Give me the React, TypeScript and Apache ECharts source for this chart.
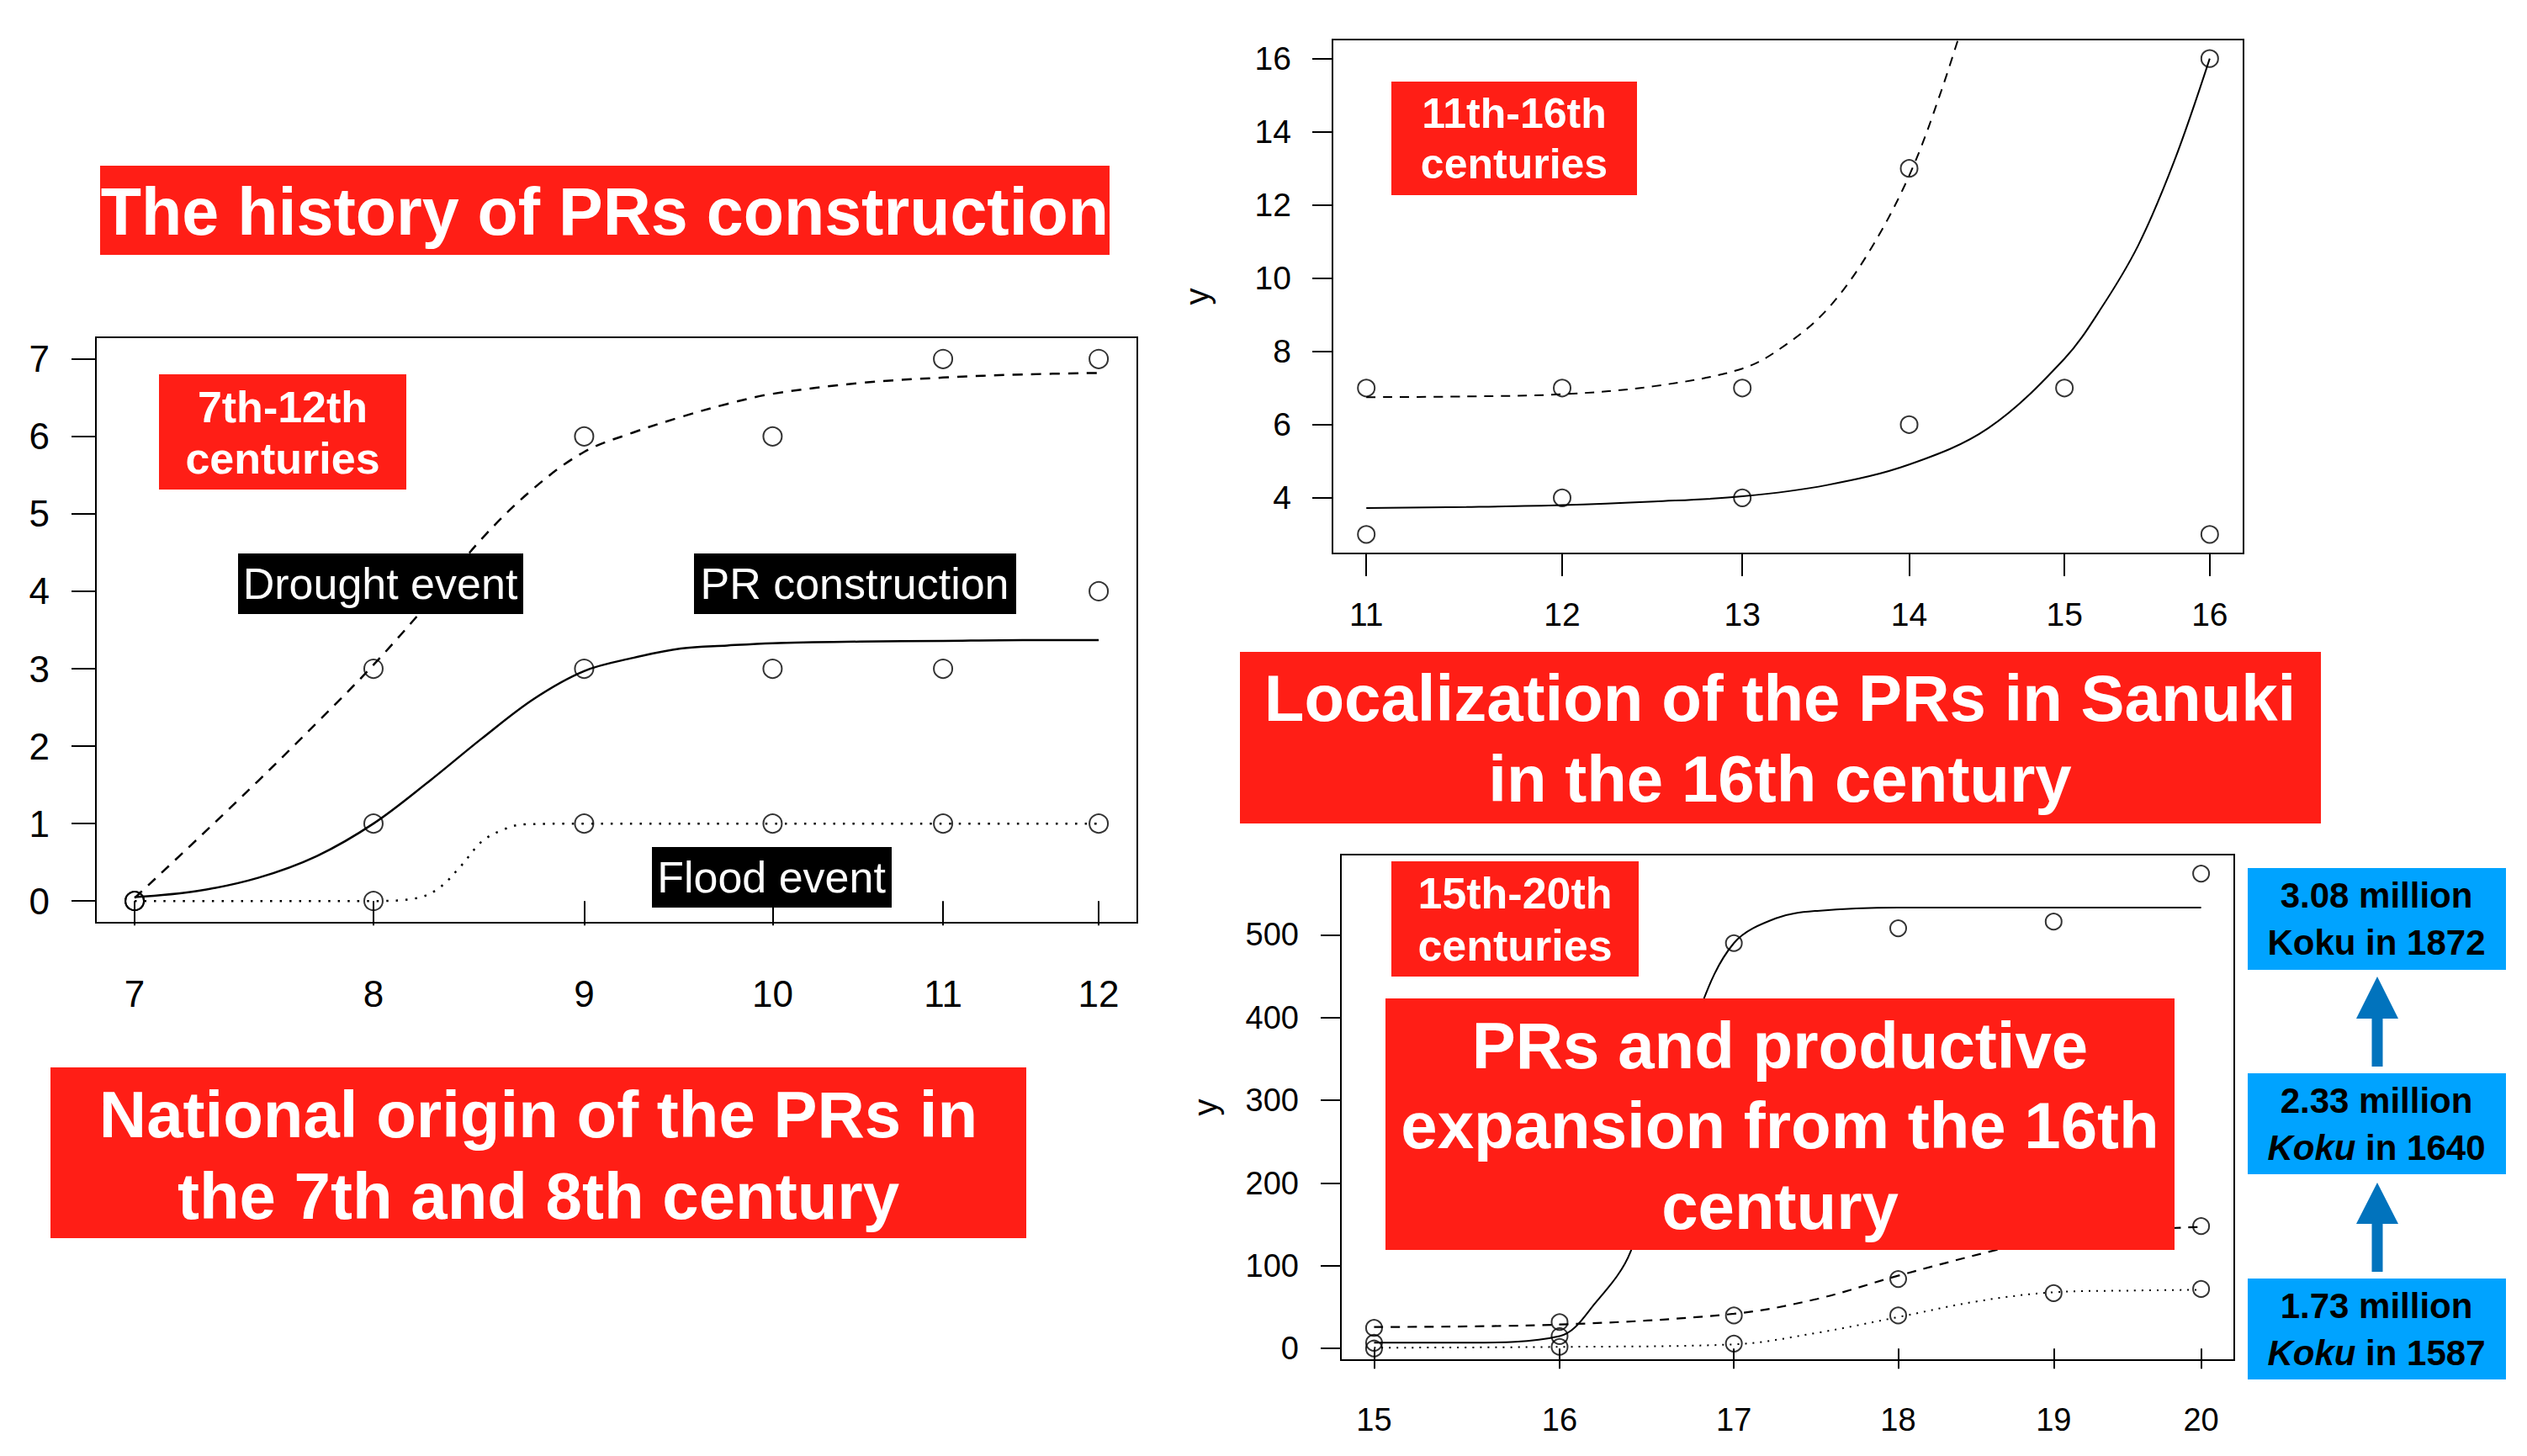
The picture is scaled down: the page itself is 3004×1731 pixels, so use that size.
import React, { useEffect, useRef } from "react";
import * as echarts from "echarts";

const FONT = '"Liberation Sans", Arial, Helvetica, sans-serif';
const RED = "#FF1E16";
const BLUE = "#00A3FF";
const ARROW = "#0173BD";

// ---------- Panel 1: 7th-12th centuries ----------
const p1Ticks = [7, 8, 9, 10, 11, 12];
const p1YTicks = [0, 1, 2, 3, 4, 5, 6, 7];
const p1Drought = [0, 3, 6, 6, 7, 7];
const p1PR = [0, 1, 3, 3, 3, 4];
const p1Flood = [0, 0, 1, 1, 1, 1];
const p1FitX = [7, 7.25, 7.5, 7.75, 8, 8.25, 8.5, 8.75, 9, 9.25, 9.5, 9.75, 10, 10.5, 11, 11.5, 12];
const p1DroughtFit = [0.04, 0.8, 1.55, 2.3, 3.05, 3.85, 4.68, 5.33, 5.8, 6.05, 6.25, 6.42, 6.55, 6.69, 6.76, 6.8, 6.82];
const p1PRFit = [0.05, 0.13, 0.3, 0.58, 1.0, 1.54, 2.1, 2.61, 2.97, 3.14, 3.26, 3.3, 3.33, 3.35, 3.36, 3.37, 3.37];
const p1FloodFitX = [7, 8, 8.2, 8.3, 8.4, 8.5, 8.6, 8.7, 9, 10, 11, 12];
const p1FloodFit = [0, 0, 0.04, 0.17, 0.45, 0.77, 0.92, 0.99, 1, 1, 1, 1];

// ---------- Panel 2: 11th-16th centuries ----------
const p2Ticks = [11, 12, 13, 14, 15, 16];
const p2YTicks = [4, 6, 8, 10, 12, 14, 16];
const p2SolidPts = [3, 4, 4, 6, 7, 16];
const p2DashedX = [11, 12, 13, 14];
const p2DashedPts = [7, 7, 7, 13];
const p2OtherX = [16];
const p2OtherPts = [3];
const p2SolidFitX = [11, 11.5, 12, 12.5, 13, 13.5, 14, 14.5, 15, 15.25, 15.5, 15.75, 16];
const p2SolidFit = [3.72, 3.75, 3.8, 3.9, 4.04, 4.35, 4.91, 5.9, 7.8, 9.2, 10.9, 13.2, 16.0];
const p2DashedFitX = [11, 11.5, 12, 12.5, 13, 13.25, 13.5, 13.75, 14, 14.2, 14.4];
const p2DashedFit = [6.75, 6.77, 6.83, 7.05, 7.53, 8.17, 9.15, 10.7, 12.8, 15.1, 17.8];

// ---------- Panel 3: 15th-20th centuries ----------
const p3Ticks = [15, 16, 17, 18, 19, 20];
const p3YTicks = [0, 100, 200, 300, 400, 500];
const p3SolidPts = [7, 15, 490, 508, 516, 574];
const p3DashedPts = [25, 32, 40, 84, 130, 148];
const p3DottedPts = [0, 2, 6, 40, 67, 72];
const p3SolidFitX = [15, 15.5, 16, 16.2, 16.4, 16.6, 16.8, 17, 17.25, 17.5, 18, 19, 20];
const p3SolidFit = [7, 7, 15, 55, 117, 270, 410, 490, 520, 529, 533, 533, 533];
const p3DashedFitX = [15, 16, 17, 17.5, 18, 18.6, 19, 19.5, 20];
const p3DashedFit = [26, 29, 42, 60, 88, 118, 135, 143, 147];
const p3DottedFitX = [15, 16, 17, 17.5, 18, 18.5, 19, 19.5, 20];
const p3DottedFit = [1, 2, 5, 19, 38, 57, 68, 70, 71];

const pairs = (xs: number[], ys: number[]) => xs.map((x, i) => [x, ys[i]]);

function xAxisCfg(idx: number, min: number, max: number, ticks: number[], tickLen: number, margin: number, fs: number) {
  return {
    type: "log",
    logBase: 10,
    gridIndex: idx,
    min,
    max,
    axisLine: { show: false },
    axisTick: { show: true, inside: false, length: tickLen, lineStyle: { color: "#000", width: 2 }, customValues: ticks },
    axisLabel: { show: true, margin, color: "#000", fontSize: fs, fontFamily: FONT, customValues: ticks },
    splitLine: { show: false },
    minorTick: { show: false },
    minorSplitLine: { show: false },
  };
}

function yAxisCfg(idx: number, min: number, max: number, ticks: number[], tickLen: number, margin: number, fs: number, name?: string) {
  return {
    type: "value",
    gridIndex: idx,
    min,
    max,
    name: name || "",
    nameLocation: "middle",
    nameRotate: 90,
    nameGap: 141,
    nameTextStyle: { color: "#000", fontSize: 40, fontFamily: FONT },
    axisLine: { show: false },
    axisTick: { show: true, inside: false, length: tickLen, lineStyle: { color: "#000", width: 2 }, customValues: ticks },
    axisLabel: { show: true, margin, color: "#000", fontSize: fs, fontFamily: FONT, customValues: ticks },
    splitLine: { show: false },
  };
}

function scatter(idx: number, data: number[][], size: number) {
  return {
    type: "scatter",
    xAxisIndex: idx,
    yAxisIndex: idx,
    data,
    symbol: "circle",
    symbolSize: size,
    itemStyle: { color: "rgba(0,0,0,0)", borderColor: "#000", borderWidth: 2 },
    z: 3,
  };
}

function curve(idx: number, data: number[][], dash: number[] | null, width: number) {
  return {
    type: "line",
    xAxisIndex: idx,
    yAxisIndex: idx,
    data,
    showSymbol: false,
    smooth: 0.35,
    clip: true,
    lineStyle: { color: "#000", width, type: dash ? dash : "solid" },
    z: 2,
  };
}

function box(x: number, y: number, w: number, h: number, fill: string) {
  return { type: "rect", shape: { x, y, width: w, height: h }, style: { fill }, z: 50 };
}

function label(x: number, y: number, text: string, fs: number, fill: string, bold: boolean, rich?: any) {
  return {
    type: "text",
    x,
    y,
    z: 51,
    style: {
      text,
      fill,
      fontSize: fs,
      fontWeight: bold ? "bold" : "normal",
      fontFamily: FONT,
      align: "center",
      verticalAlign: "middle",
      textAlign: "center",
      textVerticalAlign: "middle",
      rich,
    },
  };
}

function arrow(cx: number, tip: number, base: number, bottom: number) {
  return {
    type: "polygon",
    z: 50,
    shape: {
      points: [
        [cx, tip],
        [cx + 25, base],
        [cx + 6.5, base],
        [cx + 6.5, bottom],
        [cx - 6.5, bottom],
        [cx - 6.5, base],
        [cx - 25, base],
      ],
    },
    style: { fill: ARROW },
  };
}

export default function App() {
  const ref = useRef<HTMLDivElement>(null);
  useEffect(() => {
    if (!ref.current) return;
    const chart = echarts.init(ref.current, null, { renderer: "svg" });
    const gridBase = { show: true, borderColor: "#000", borderWidth: 2, backgroundColor: "transparent", containLabel: false, outerBoundsMode: "none" };
    const italicRich = { i: { fontStyle: "italic", fontWeight: "bold", fontSize: 42, fontFamily: FONT, fill: "#000" } };
    const option: any = {
      animation: false,
      backgroundColor: "#fff",
      grid: [
        { ...gridBase, left: 114, top: 401, width: 1238, height: 696 },
        { ...gridBase, left: 1584, top: 47, width: 1083, height: 611 },
        { ...gridBase, left: 1594, top: 1016, width: 1062, height: 601 },
      ],
      xAxis: [
        xAxisCfg(0, 6.85, 12.262, p1Ticks, 29, 62, 44),
        xAxisCfg(1, 10.836, 16.242, p2Ticks, 27, 53, 39),
        xAxisCfg(2, 14.828, 20.232, p3Ticks, 24, 52, 38),
      ],
      yAxis: [
        yAxisCfg(0, -0.28, 7.28, p1YTicks, 29, 55, 44),
        yAxisCfg(1, 2.48, 16.52, p2YTicks, 24, 49, 39, "y"),
        yAxisCfg(2, -14, 597, p3YTicks, 24, 50, 38, "y"),
      ],
      series: [
        curve(0, pairs(p1FitX, p1DroughtFit), [12, 10], 2.5),
        curve(0, pairs(p1FitX, p1PRFit), null, 2.5),
        curve(0, pairs(p1FloodFitX, p1FloodFit), [2.5, 9], 2.5),
        scatter(0, pairs(p1Ticks, p1Drought), 22),
        scatter(0, pairs(p1Ticks, p1PR), 22),
        scatter(0, pairs(p1Ticks, p1Flood), 22),

        curve(1, pairs(p2SolidFitX, p2SolidFit), null, 2),
        curve(1, pairs(p2DashedFitX, p2DashedFit), [11, 9], 2),
        scatter(1, pairs(p2Ticks, p2SolidPts), 20),
        scatter(1, pairs(p2DashedX, p2DashedPts), 20),
        scatter(1, pairs(p2OtherX, p2OtherPts), 20),

        curve(2, pairs(p3SolidFitX, p3SolidFit), null, 2),
        curve(2, pairs(p3DashedFitX, p3DashedFit), [11, 9], 2.2),
        curve(2, pairs(p3DottedFitX, p3DottedFit), [2, 7], 2),
        scatter(2, pairs(p3Ticks, p3SolidPts), 19),
        scatter(2, pairs(p3Ticks, p3DashedPts), 19),
        scatter(2, pairs(p3Ticks, p3DottedPts), 19),
      ],
      graphic: {
        elements: [
          // Titles
          box(119, 197, 1200, 106, RED),
          label(719, 251, "The history of PRs construction", 79, "#fff", true),
          box(60, 1269, 1160, 203, RED),
          label(640, 1325, "National origin of the PRs in", 78, "#fff", true),
          label(640, 1422, "the 7th and 8th century", 78, "#fff", true),
          box(1474, 775, 1285, 204, RED),
          label(2116, 830, "Localization of the PRs in Sanuki", 78, "#fff", true),
          label(2116, 926, "in the 16th century", 78, "#fff", true),
          box(1647, 1187, 938, 299, RED),
          label(2116, 1243, "PRs and productive", 78, "#fff", true),
          label(2116, 1338, "expansion from the 16th", 78, "#fff", true),
          label(2116, 1434, "century", 78, "#fff", true),
          // Period tags
          box(189, 445, 294, 137, RED),
          label(336, 484, "7th-12th", 52, "#fff", true),
          label(336, 545, "centuries", 52, "#fff", true),
          box(1654, 97, 292, 135, RED),
          label(1800, 135, "11th-16th", 50, "#fff", true),
          label(1800, 195, "centuries", 50, "#fff", true),
          box(1654, 1024, 294, 137, RED),
          label(1801, 1062, "15th-20th", 52, "#fff", true),
          label(1801, 1124, "centuries", 52, "#fff", true),
          // Black tags
          box(283, 658, 339, 72, "#000"),
          label(452, 694, "Drought event", 52, "#fff", false),
          box(825, 658, 383, 72, "#000"),
          label(1016, 694, "PR construction", 52, "#fff", false),
          box(775, 1007, 285, 72, "#000"),
          label(917, 1043, "Flood event", 52, "#fff", false),
          // Blue boxes
          box(2672, 1032, 307, 121, BLUE),
          label(2825, 1064, "3.08 million", 42, "#000", true),
          label(2825, 1120, "Koku in 1872", 42, "#000", true),
          box(2672, 1276, 307, 120, BLUE),
          label(2825, 1308, "2.33 million", 42, "#000", true),
          label(2825, 1364, "{i|Koku} in 1640", 42, "#000", true, italicRich),
          box(2672, 1520, 307, 120, BLUE),
          label(2825, 1552, "1.73 million", 42, "#000", true),
          label(2825, 1608, "{i|Koku} in 1587", 42, "#000", true, italicRich),
          arrow(2826, 1161, 1211, 1268),
          arrow(2826, 1406, 1455, 1512),
        ],
      },
    };
    chart.setOption(option);
    return () => chart.dispose();
  }, []);
  return <div ref={ref} style={{ position: "fixed", left: 0, top: 0, width: 3004, height: 1731, background: "#fff" }} />;
}
